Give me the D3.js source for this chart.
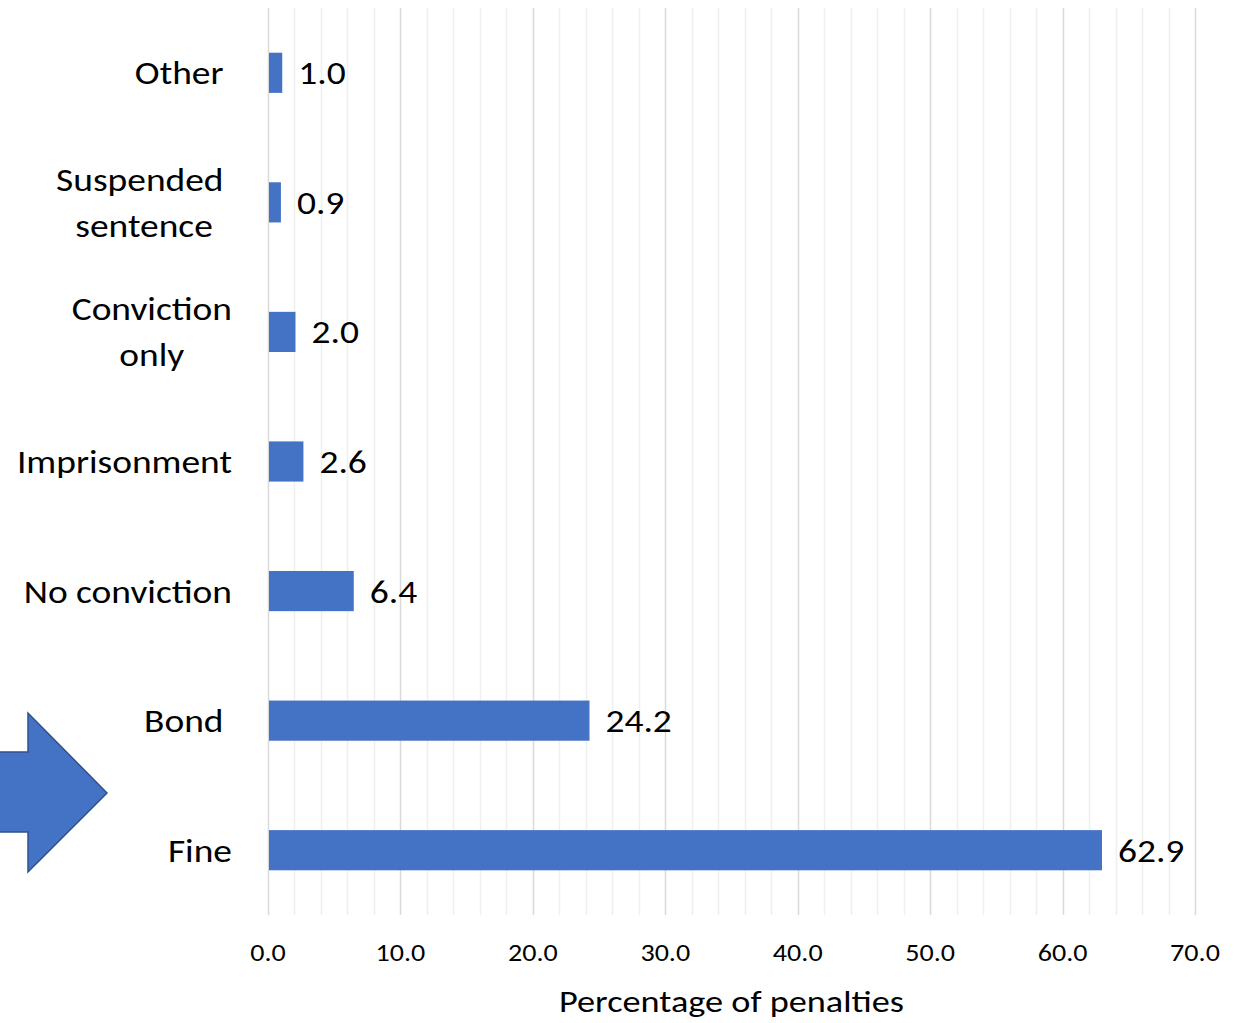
<!DOCTYPE html>
<html>
<head>
<meta charset="utf-8">
<script src="https://cdn.jsdelivr.net/npm/d3@7"></script>
<style>
  html, body { margin: 0; padding: 0; background: #fff; }
  svg { display: block; }
  text { font-family: Carlito, Calibri, Lato, "Noto Sans", sans-serif; fill: #000; white-space: pre; }
</style>
</head>
<body>
<svg id="chart" width="1236" height="1023"></svg>
<script>
// Penalty types, top to bottom, with the share of penalties for each
const categories = [
  ["Other "],
  ["Suspended ", "sentence"],
  ["Conviction", "only"],
  ["Imprisonment"],
  ["No conviction"],
  ["Bond "],
  ["Fine"]
];
const values = [1.0, 0.9, 2.0, 2.6, 6.4, 24.2, 62.9];
const majorTicks = [0, 10, 20, 30, 40, 50, 60, 70];
const minorTicks = d3.range(0, 70.01, 2);
const axisTitle = "Percentage of penalties";

const svg = d3.select("#chart");
const plot = { left: 268, right: 1195, top: 8, bottom: 915 };
const stretch = 1.17; // horizontal widening of all text

const x = d3.scaleLinear().domain([0, 70]).range([plot.left, plot.right]);
const y = d3.scaleBand()
  .domain(d3.range(categories.length))
  .range([plot.top, plot.bottom])
  .paddingInner(0.69)
  .paddingOuter(0.345);

// Place a text item at (px, py), widened horizontally around its anchor
function place(sel, px, py) {
  sel.attr("transform", (d, i) => `translate(${typeof px === "function" ? px(d, i) : px},${typeof py === "function" ? py(d, i) : py}) scale(${stretch},1)`);
}

// Gridlines: light minor lines every 2, darker major lines every 10
svg.append("g").selectAll("line")
  .data(minorTicks.filter(t => t % 10 !== 0))
  .join("line")
  .attr("x1", d => Math.round(x(d)) + 0.5).attr("x2", d => Math.round(x(d)) + 0.5)
  .attr("y1", plot.top).attr("y2", plot.bottom)
  .attr("stroke", "#efefef").attr("stroke-width", 1.5);

svg.append("g").selectAll("line")
  .data(majorTicks)
  .join("line")
  .attr("x1", d => Math.round(x(d)) + 0.5).attr("x2", d => Math.round(x(d)) + 0.5)
  .attr("y1", plot.top).attr("y2", plot.bottom)
  .attr("stroke", "#d9d9d9").attr("stroke-width", 1.5);

// Bars
svg.append("g").selectAll("rect")
  .data(values)
  .join("rect")
  .attr("x", x(0) + 1)
  .attr("y", (d, i) => y(i))
  .attr("width", d => x(d) - x(0))
  .attr("height", y.bandwidth())
  .attr("fill", "#4472C4");

// Value labels beside each bar
const valLabels = svg.append("g").selectAll("text")
  .data(values)
  .join("text")
  .attr("dy", "0.36em")
  .attr("font-size", 32)
  .text(d => d.toFixed(1));
place(valLabels, d => x(d) + 17, (d, i) => y(i) + y.bandwidth() / 2);

// Category labels: right-aligned block, lines centred within it
const catG = svg.append("g");
const lineH = 46;
categories.forEach((lines, i) => {
  const cy = y(i) + y.bandwidth() / 2;
  const g = catG.append("g");
  const texts = lines.map((ln, j) => g.append("text")
    .attr("font-size", 32)
    .attr("dy", "0.36em")
    .attr("text-anchor", "middle")
    .text(ln));
  const widths = texts.map(t => t.node().getComputedTextLength() * stretch);
  const blockW = d3.max(widths);
  const rightEdge = plot.left - 36;
  texts.forEach((t, j) => place(t, rightEdge - blockW / 2, cy + (j - (lines.length - 1) / 2) * lineH));
});

// X axis tick labels
const tickLabels = svg.append("g").selectAll("text")
  .data(majorTicks)
  .join("text")
  .attr("dy", "0.36em")
  .attr("text-anchor", "middle")
  .attr("font-size", 24)
  .text(d => d.toFixed(1));
place(tickLabels, d => x(d), 952);

// Axis title
const title = svg.append("text")
  .attr("dy", "0.36em")
  .attr("text-anchor", "middle")
  .attr("font-size", 31)
  .text(axisTitle);
place(title, (plot.left + plot.right) / 2, 1001);

// Arrow pointing at the "Fine" row
const arrowPts = [[-10, 752], [28, 752], [28, 713], [107, 793], [28, 872], [28, 832], [-10, 832]];
svg.append("path")
  .attr("d", d3.line()(arrowPts) + "Z")
  .attr("fill", "#4472C4")
  .attr("stroke", "#2F528F")
  .attr("stroke-width", 1.5);
</script>
</body>
</html>
